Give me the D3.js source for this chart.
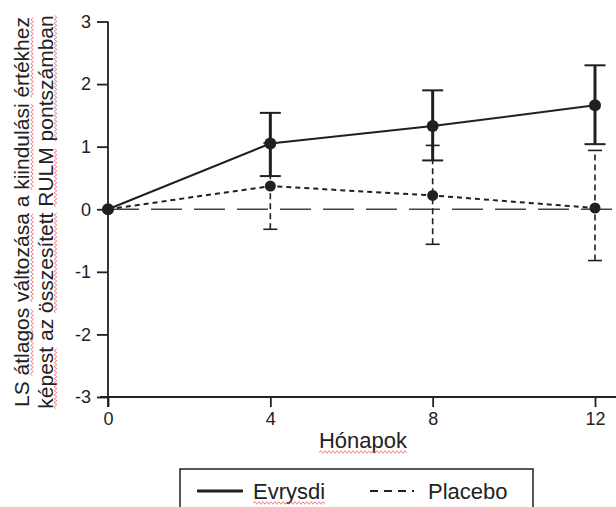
<!DOCTYPE html>
<html>
<head>
<meta charset="utf-8">
<script src="https://cdn.jsdelivr.net/npm/d3@7"></script>
<style>
  body { margin: 0; background: #fff; }
  svg { display: block; font-family: "Liberation Sans", Arial, Helvetica, sans-serif; }
</style>
</head>
<body>
<svg width="616" height="507"></svg>
<script>
var months = [0, 4, 8, 12];
var xTicks = [0, 4, 8, 12];
var yTicks = [-3, -2, -1, 0, 1, 2, 3];

var evrysdiMean = [0, 1.05, 1.33, 1.66];
var evrysdiLow  = [0, 0.53, 0.78, 1.04];
var evrysdiHigh = [0, 1.54, 1.90, 2.30];

var placeboMean = [0, 0.37, 0.22, 0.02];
var placeboLow  = [0, -0.32, -0.56, -0.82];
var placeboHigh = [0, 1.06, 1.02, 0.94];

var yLabelLines = ["LS átlagos változása a kiindulási értékhez",
                   "képest az összesített RULM pontszámban"];
var xLabel = "Hónapok";
var seriesNames = ["Evrysdi", "Placebo"];

var svg = d3.select("svg");
var ink = "#231f20";

var x = d3.scaleLinear().domain([0, 12]).range([108, 595]);
var y = d3.scaleLinear().domain([-3, 3]).range([397, 21.5]);

// squiggly spell-check underline, drawn along a text baseline
function squiggle(g, x0, x1, yb) {
    var d = "M" + x0 + "," + yb, up = true;
    for (var px = x0 + 2; px <= x1; px += 2) {
        d += "L" + px + "," + (yb + (up ? -1.3 : 1.3));
        up = !up;
    }
    g.append("path").attr("d", d).attr("fill", "none")
        .attr("stroke", "#e8484a").attr("stroke-width", 0.8).attr("opacity", 0.85);
}
function underlineWords(g, textSel, words, off) {
    var node = textSel.node(), str = textSel.text();
    var base = +textSel.attr("y");
    words.forEach(function (w) {
        var i = str.indexOf(w);
        if (i < 0) return;
        var s = node.getStartPositionOfChar(i).x;
        var e = node.getEndPositionOfChar(i + w.length - 1).x;
        squiggle(g, s, e, base + off);
    });
}

// zero reference line
svg.append("line")
    .attr("x1", x(0)).attr("x2", 616)
    .attr("y1", y(0)).attr("y2", y(0))
    .attr("stroke", "#444").attr("stroke-width", 1.6)
    .attr("stroke-dasharray", "31,12");

// axes
var plainNum = function (d) { return String(d); };
var yAxis = svg.append("g")
    .attr("transform", "translate(" + x(0) + ",0)")
    .call(d3.axisLeft(y).tickValues(yTicks).tickFormat(plainNum)
        .tickSize(11).tickSizeOuter(0).tickPadding(6));
yAxis.select(".domain").remove();
yAxis.selectAll(".tick line").attr("stroke", ink).attr("stroke-width", 1.8);
yAxis.selectAll(".tick text").attr("font-size", 18).attr("fill", "#222")
    .attr("font-family", null);

var xAxis = svg.append("g")
    .attr("transform", "translate(0," + y(-3) + ")")
    .call(d3.axisBottom(x).tickValues(xTicks).tickFormat(plainNum)
        .tickSize(10).tickSizeOuter(0).tickPadding(5));
xAxis.select(".domain").remove();
xAxis.selectAll(".tick line").attr("stroke", ink).attr("stroke-width", 1.8);
xAxis.selectAll(".tick text").attr("font-size", 18).attr("fill", "#222")
    .attr("font-family", null);

svg.append("line").attr("x1", x(0) - 8).attr("x2", 616)
    .attr("y1", y(-3)).attr("y2", y(-3))
    .attr("stroke", ink).attr("stroke-width", 1.8);
svg.append("line").attr("x1", x(0)).attr("x2", x(0))
    .attr("y1", y(3)).attr("y2", y(-3) + 10)
    .attr("stroke", ink).attr("stroke-width", 1.8);

// placebo series
var plac = months.map(function (m, i) {
    return { m: m, v: placeboMean[i], lo: placeboLow[i], hi: placeboHigh[i] };
});
var evr = months.map(function (m, i) {
    return { m: m, v: evrysdiMean[i], lo: evrysdiLow[i], hi: evrysdiHigh[i] };
});
var line = d3.line().x(function (d) { return x(d.m); }).y(function (d) { return y(d.v); });

var pg = svg.append("g");
plac.slice(1).forEach(function (d) {
    pg.append("line").attr("x1", x(d.m)).attr("x2", x(d.m))
        .attr("y1", y(d.lo)).attr("y2", y(d.hi))
        .attr("stroke", ink).attr("stroke-width", 1.6).attr("stroke-dasharray", "6,4");
    [d.lo, d.hi].forEach(function (v) {
        pg.append("line").attr("x1", x(d.m) - 7).attr("x2", x(d.m) + 7)
            .attr("y1", y(v)).attr("y2", y(v))
            .attr("stroke", ink).attr("stroke-width", 1.6);
    });
});
pg.append("path").datum(plac).attr("d", line).attr("fill", "none")
    .attr("stroke", ink).attr("stroke-width", 2).attr("stroke-dasharray", "5,4");
pg.selectAll("circle").data(plac).enter().append("circle")
    .attr("cx", function (d) { return x(d.m); })
    .attr("cy", function (d) { return y(d.v); })
    .attr("r", 5.5).attr("fill", ink);

// evrysdi series
var eg = svg.append("g");
evr.slice(1).forEach(function (d) {
    eg.append("line").attr("x1", x(d.m)).attr("x2", x(d.m))
        .attr("y1", y(d.lo)).attr("y2", y(d.hi))
        .attr("stroke", ink).attr("stroke-width", 3);
    [d.lo, d.hi].forEach(function (v) {
        eg.append("line").attr("x1", x(d.m) - 10.5).attr("x2", x(d.m) + 10.5)
            .attr("y1", y(v)).attr("y2", y(v))
            .attr("stroke", ink).attr("stroke-width", 2);
    });
});
eg.append("path").datum(evr).attr("d", line).attr("fill", "none")
    .attr("stroke", ink).attr("stroke-width", 2);
eg.selectAll("circle").data(evr).enter().append("circle")
    .attr("cx", function (d) { return x(d.m); })
    .attr("cy", function (d) { return y(d.v); })
    .attr("r", 6).attr("fill", ink);

// y axis title (two rotated lines)
var yt = svg.append("g").attr("transform", "translate(0,212) rotate(-90)");
var yWords = [["átlagos", "változása", "kiindulási", "értékhez"],
              ["képest", "összesített", "RULM", "pontszámban"]];
yLabelLines.forEach(function (t, i) {
    var tx = yt.append("text").attr("x", 0).attr("y", 29 + i * 23.5)
        .attr("text-anchor", "middle").attr("font-size", 21).attr("fill", "#222").text(t);
    underlineWords(yt, tx, yWords[i], 3);
});

// x axis title
var xt = svg.append("text").attr("x", 363).attr("y", 448)
    .attr("text-anchor", "middle").attr("font-size", 22).attr("fill", "#222").text(xLabel);
underlineWords(svg, xt, ["Hónapok"], 4);

// legend
var lg = svg.append("g");
lg.append("rect").attr("x", 180).attr("y", 469).attr("width", 353).attr("height", 60)
    .attr("fill", "#fff").attr("stroke", ink).attr("stroke-width", 1.5);
lg.append("line").attr("x1", 197).attr("x2", 243).attr("y1", 491).attr("y2", 491)
    .attr("stroke", ink).attr("stroke-width", 3);
var le = lg.append("text").attr("x", 253).attr("y", 499).attr("font-size", 22)
    .attr("fill", "#222").text(seriesNames[0]);
underlineWords(lg, le, ["Evrysdi"], 4);
lg.append("line").attr("x1", 370).attr("x2", 414).attr("y1", 491).attr("y2", 491)
    .attr("stroke", ink).attr("stroke-width", 2).attr("stroke-dasharray", "8,6");
lg.append("text").attr("x", 428).attr("y", 499).attr("font-size", 22)
    .attr("fill", "#222").text(seriesNames[1]);
</script>
</body>
</html>
